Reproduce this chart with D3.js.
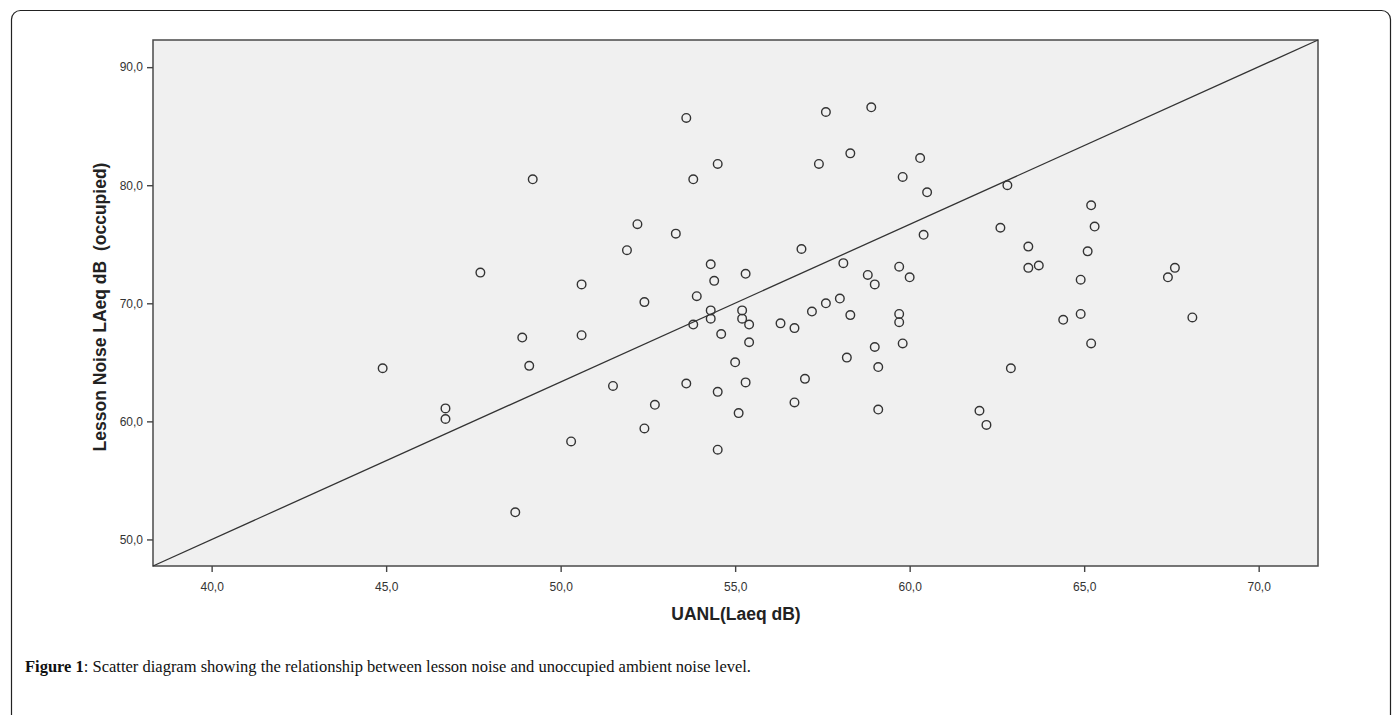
<!DOCTYPE html>
<html><head><meta charset="utf-8">
<script src="https://cdn.jsdelivr.net/npm/d3@7"></script>
<style>body{margin:0;background:#fff}svg{display:block}</style>
</head><body>
<svg id="chart" width="1394" height="715"></svg>
<script>
const uanl = [44.9,46.7,46.7,47.7,48.7,48.9,49.1,49.2,50.3,50.6,50.6,51.5,51.9,52.2,52.4,52.4,52.7,53.3,53.6,53.6,53.8,53.8,53.9,54.3,54.3,54.3,54.4,54.5,54.5,54.5,54.6,55.0,55.1,55.2,55.2,55.3,55.3,55.4,55.4,56.3,56.7,56.7,56.9,57.0,57.2,57.4,57.6,57.6,58.0,58.1,58.2,58.3,58.3,58.8,58.9,59.0,59.0,59.1,59.1,59.7,59.7,59.7,59.8,59.8,60.0,60.3,60.4,60.5,62.0,62.2,62.6,62.8,62.9,63.4,63.4,63.7,64.4,64.9,64.9,65.1,65.2,65.3,65.2,67.4,67.6,68.1];
const lessonNoise = [64.5,61.1,60.2,72.6,52.3,67.1,64.7,80.5,58.3,71.6,67.3,63.0,74.5,76.7,70.1,59.4,61.4,75.9,85.7,63.2,80.5,68.2,70.6,73.3,69.4,68.7,71.9,81.8,62.5,57.6,67.4,65.0,60.7,69.4,68.7,72.5,63.3,68.2,66.7,68.3,67.9,61.6,74.6,63.6,69.3,81.8,86.2,70.0,70.4,73.4,65.4,82.7,69.0,72.4,86.6,71.6,66.3,64.6,61.0,73.1,69.1,68.4,80.7,66.6,72.2,82.3,75.8,79.4,60.9,59.7,76.4,80.0,64.5,74.8,73.0,73.2,68.6,72.0,69.1,74.4,78.3,76.5,66.6,72.2,73.0,68.8];
const xTicks = [40,45,50,55,60,65,70];
const yTicks = [50,60,70,80,90];
const xDomain = [38.32, 71.7];
const yDomain = [47.75, 92.3];
const fitLineX = [38.32, 71.7];
const fitLineY = [47.75, 92.3];

const svg = d3.select("#chart");
const L=153, R=1318, T=40, B=566;
const x = d3.scaleLinear().domain(xDomain).range([L,R]);
const y = d3.scaleLinear().domain(yDomain).range([B,T]);
const fmt = v => d3.format(".1f")(v).replace(".", ",");

// outer frame
svg.append("rect").attr("x",11.5).attr("y",10.5).attr("width",1379).attr("height",760)
  .attr("rx",9).attr("fill","none").attr("stroke","#222").attr("stroke-width",1.2);

svg.append("rect").attr("x",L).attr("y",T).attr("width",R-L).attr("height",B-T)
  .attr("fill","#f0f0f0").attr("stroke","#4a4a4a").attr("stroke-width",1.5);

const xAxis = svg.append("g").attr("transform",`translate(0,${B})`)
  .call(d3.axisBottom(x).tickValues(xTicks).tickFormat(fmt).tickSize(6).tickSizeOuter(0));
const yAxis = svg.append("g").attr("transform",`translate(${L},0)`)
  .call(d3.axisLeft(y).tickValues(yTicks).tickFormat(fmt).tickSize(6).tickSizeOuter(0));
[xAxis,yAxis].forEach(a=>{
  a.select(".domain").remove();
  a.selectAll("line").attr("stroke","#444").attr("stroke-width",1.4);
  a.selectAll("text").attr("font-family","Liberation Sans, Arial, sans-serif").attr("font-size",12).attr("fill","#333");
});
xAxis.selectAll("text").attr("dy","1.35em");
yAxis.selectAll("text").attr("dx","-1");

// fit line
const lineData = fitLineX.map((v,i)=>[v, fitLineY[i]]);
svg.append("path").datum(lineData)
  .attr("d", d3.line().x(d=>x(d[0])).y(d=>y(d[1])))
  .attr("stroke","#333").attr("stroke-width",1.3).attr("fill","none");

svg.append("g").selectAll("circle").data(uanl.map((v,i)=>[v, lessonNoise[i]]))
  .join("circle").attr("cx",d=>x(d[0])).attr("cy",d=>y(d[1])).attr("r",4.3)
  .attr("fill","none").attr("stroke","#333").attr("stroke-width",1.4);

svg.append("text").attr("x",736).attr("y",620).attr("text-anchor","middle")
  .attr("font-family","Liberation Sans, Arial, sans-serif").attr("font-weight","bold").attr("font-size",17.5).attr("fill","#222")
  .text("UANL(Laeq dB)");
svg.append("text").attr("transform",`translate(106,307) rotate(-90)`).attr("text-anchor","middle")
  .attr("font-family","Liberation Sans, Arial, sans-serif").attr("font-weight","bold").attr("font-size",17.5).attr("fill","#222")
  .attr("xml:space","preserve")
  .text("Lesson Noise LAeq dB  (occupied)");

const cap = svg.append("text").attr("x",25).attr("y",672)
  .attr("font-family","Liberation Serif, Times New Roman, serif").attr("font-size",16.5).attr("fill","#111");
cap.append("tspan").attr("font-weight","bold").text("Figure 1");
cap.append("tspan").text(": Scatter diagram showing the relationship between lesson noise and unoccupied ambient noise level.");
</script>
</body></html>
